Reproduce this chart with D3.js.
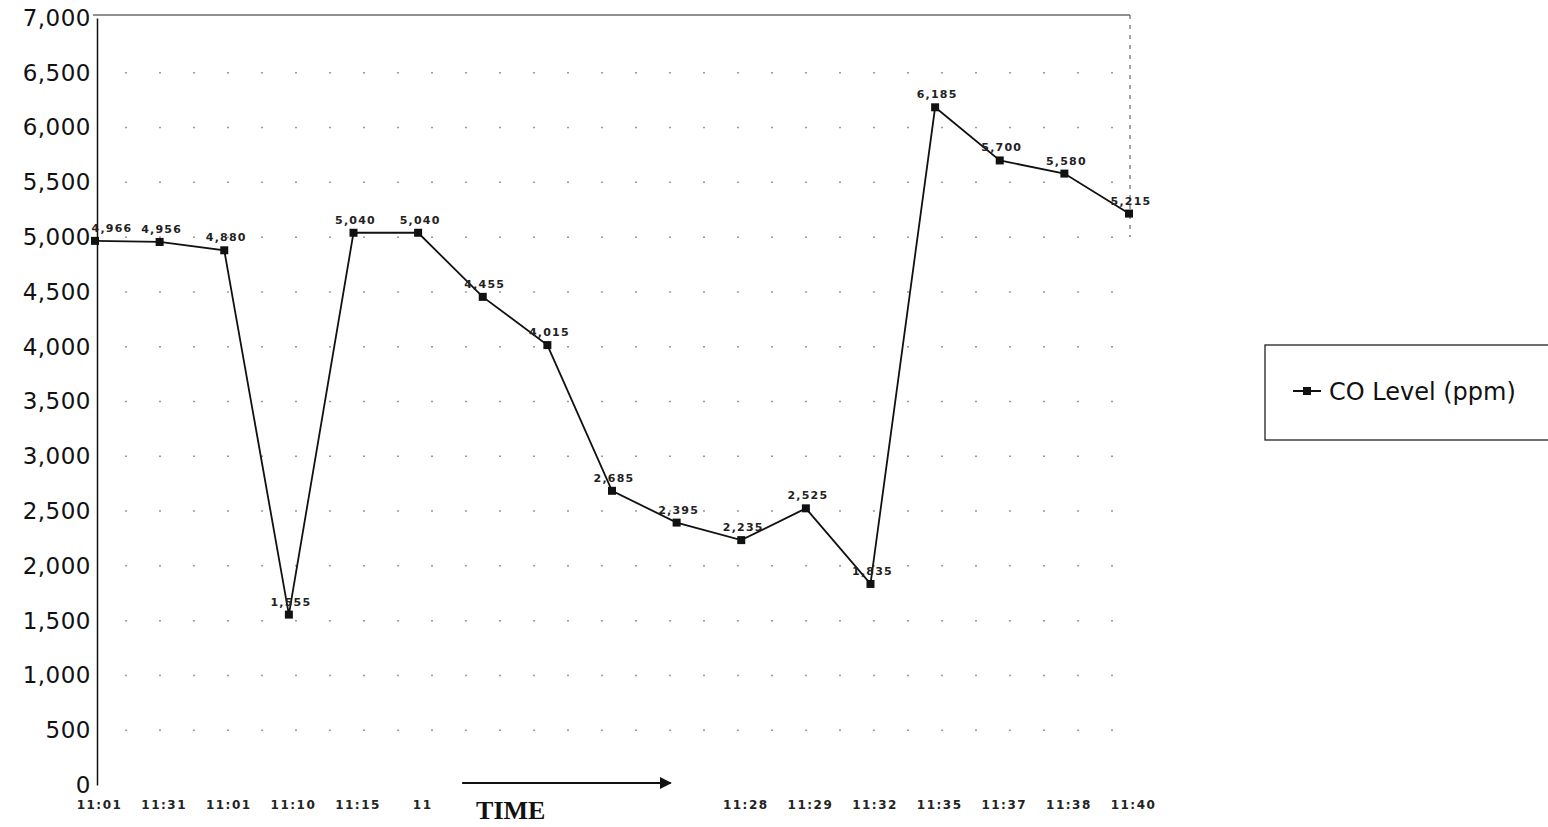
<!DOCTYPE html>
<html>
<head>
<meta charset="utf-8">
<script src="https://cdn.jsdelivr.net/npm/d3@7"></script>
<style>
  body { margin: 0; background: #fff; }
  svg { display: block; }
</style>
</head>
<body>
<svg id="chart" width="1548" height="827"></svg>
<script>
// times along the x axis (some labels lost in the original scan)
const times = ["11:01", "11:31", "11:01", "11:10", "11:15", "11", "", "", "", "",
               "11:28", "11:29", "11:32", "11:35", "11:37", "11:38", "11:40"];
// CO level (ppm) at each reading
const coLevel = [4966, 4956, 4880, 1555, 5040, 5040, 4455, 4015, 2685, 2395,
                 2235, 2525, 1835, 6185, 5700, 5580, 5215];
const yTicks = d3.range(0, 7001, 500);
const seriesName = "CO Level (ppm)";

const svg = d3.select("#chart");
const margin = {left: 95, right: 419, top: 18, bottom: 42};
const W = 1548, H = 827;
const font = "DejaVu Sans, Arial, sans-serif";

const x = d3.scalePoint()
    .domain(d3.range(times.length))
    .range([margin.left, W - margin.right]);

const y = d3.scaleLinear()
    .domain([0, 7000])
    .range([H - margin.bottom, margin.top]);

// sparse dotted gridlines like the scanned original
svg.append("g")
  .selectAll("line")
  .data(yTicks.filter(d => d > 0 && d < 7000))
  .join("line")
    .attr("x1", margin.left + 30)
    .attr("x2", W - margin.right)
    .attr("y1", d => y(d))
    .attr("y2", d => y(d))
    .attr("stroke", "#999")
    .attr("stroke-width", 1.5)
    .attr("stroke-dasharray", "2,32");

// frame: top + right
svg.append("line")
    .attr("x1", margin.left - 2).attr("x2", W - margin.right + 1)
    .attr("y1", y(7000) - 3).attr("y2", y(7000) - 3)
    .attr("stroke", "#222").attr("stroke-width", 1.2);
svg.append("line")
    .attr("x1", W - margin.right + 1).attr("x2", W - margin.right + 1)
    .attr("y1", y(7000) - 3).attr("y2", y(5000))
    .attr("stroke", "#444").attr("stroke-width", 1)
    .attr("stroke-dasharray", "4,6");

// y axis
const yAxis = svg.append("g")
    .attr("transform", `translate(${margin.left + 2},0)`)
    .call(d3.axisLeft(y).tickValues(yTicks).tickSize(0).tickPadding(6)
      .tickFormat(d3.format(",")));
yAxis.select(".domain").attr("stroke", "#111").attr("stroke-width", 1.5);
yAxis.selectAll("text")
    .attr("font-family", font)
    .attr("font-size", 23)
    .attr("letter-spacing", 0.5)
    .attr("fill", "#111");

// x axis labels
const xAxis = svg.append("g")
    .attr("transform", `translate(0,${H - margin.bottom})`)
    .call(d3.axisBottom(x).tickSize(0).tickPadding(15)
      .tickFormat(i => times[i]));
xAxis.select(".domain").remove();
xAxis.selectAll("text")
    .attr("dx", 4)
    .attr("font-family", font)
    .attr("font-weight", "bold")
    .attr("font-size", 12)
    .attr("letter-spacing", 1.5)
    .attr("fill", "#222");

// TIME arrow
const arrowY = H - margin.bottom - 2;
svg.append("defs").append("marker")
    .attr("id", "arrow")
    .attr("viewBox", "0 0 10 10")
    .attr("refX", 9).attr("refY", 5)
    .attr("markerWidth", 6).attr("markerHeight", 6)
    .attr("orient", "auto")
  .append("path")
    .attr("d", "M0,0L10,5L0,10Z")
    .attr("fill", "#111");
svg.append("line")
    .attr("x1", x(5) + 44).attr("x2", x(9) - 6)
    .attr("y1", arrowY).attr("y2", arrowY)
    .attr("stroke", "#111").attr("stroke-width", 2)
    .attr("marker-end", "url(#arrow)");
svg.append("text")
    .attr("x", x(6) + 28)
    .attr("y", H - 8)
    .attr("text-anchor", "middle")
    .attr("font-family", "Liberation Serif, Times New Roman, serif")
    .attr("font-weight", "bold")
    .attr("font-size", 26)
    .attr("fill", "#111")
    .text("TIME");

// series line
const line = d3.line()
    .x((d, i) => x(i))
    .y(d => y(d));

svg.append("path")
    .datum(coLevel)
    .attr("fill", "none")
    .attr("stroke", "#111")
    .attr("stroke-width", 1.8)
    .attr("d", line);

svg.selectAll("rect.pt")
  .data(coLevel)
  .join("rect")
    .attr("class", "pt")
    .attr("x", (d, i) => x(i) - 4)
    .attr("y", d => y(d) - 4)
    .attr("width", 8)
    .attr("height", 8)
    .attr("fill", "#111");

// data labels (first one nudged clear of the 5,000 tick)
svg.selectAll("text.lbl")
  .data(coLevel)
  .join("text")
    .attr("class", "lbl")
    .attr("x", (d, i) => x(i) + (i === 0 ? 17 : 2))
    .attr("y", d => y(d) - 9)
    .attr("text-anchor", "middle")
    .attr("font-family", font)
    .attr("font-weight", "bold")
    .attr("font-size", 11)
    .attr("letter-spacing", 1.2)
    .attr("fill", "#222")
    .text(d => d3.format(",")(d));

// legend
const lg = svg.append("g").attr("transform", "translate(1265,345)");
lg.append("rect")
    .attr("width", 290).attr("height", 95)
    .attr("fill", "none").attr("stroke", "#222").attr("stroke-width", 1.3);
lg.append("line")
    .attr("x1", 28).attr("x2", 56).attr("y1", 46).attr("y2", 46)
    .attr("stroke", "#111").attr("stroke-width", 2);
lg.append("rect")
    .attr("x", 38).attr("y", 42).attr("width", 8).attr("height", 8)
    .attr("fill", "#111");
lg.append("text")
    .attr("x", 64).attr("y", 55)
    .attr("font-family", font)
    .attr("font-size", 24)
    .attr("fill", "#111")
    .text(seriesName);
</script>
</body>
</html>
